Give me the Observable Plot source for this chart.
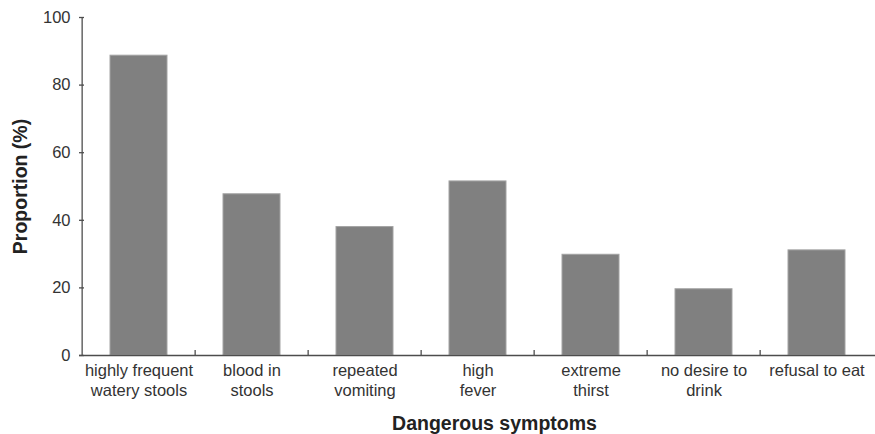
<!DOCTYPE html>
<html>
<head>
<meta charset="utf-8">
<script src="https://cdn.jsdelivr.net/npm/d3@7"></script>
<script src="https://cdn.jsdelivr.net/npm/@observablehq/plot@0.6"></script>
<style>
  html, body { margin: 0; padding: 0; background: #fff; }
  #chart { width: 875px; height: 434px; }
</style>
</head>
<body>
<div id="chart"></div>
<script>
const categories = [
  "highly frequent\nwatery stools",
  "blood in\nstools",
  "repeated\nvomiting",
  "high\nfever",
  "extreme\nthirst",
  "no desire to\ndrink",
  "refusal to eat"
];
const values = [88.7, 47.7, 38.0, 51.5, 29.8, 19.6, 31.1];
const yTicks = [0, 20, 40, 60, 80, 100];
const xTitle = "Dangerous symptoms";
const yTitle = "Proportion (%)";

const data = categories.map((c, i) => ({cat: c, value: values[i]}));

const W = 875, H = 434, mL = 79, mR = 0, mT = 17, mB = 79;
const step = (W - mL - mR) / categories.length;
const axisColor = "#4d4d4d";
const textColor = "#333";

const chart = Plot.plot({
  width: W, height: H,
  marginLeft: mL, marginRight: mR, marginTop: mT, marginBottom: mB,
  style: {fontFamily: "'Liberation Sans', Arial, sans-serif", fontSize: "16.5px", color: textColor, background: "#fff"},
  x: {domain: categories, paddingInner: 0.5, paddingOuter: 0.25, axis: null},
  y: {domain: [0, 100], axis: null},
  marks: [
    Plot.barY(data, {x: "cat", y: "value", fill: "#808080", stroke: "#a3a3a3", strokeWidth: 1}),
    Plot.ruleY([0], {stroke: axisColor, strokeWidth: 1.3}),
    Plot.ruleX([categories[0]], {y1: 0, y2: 100, dx: -step / 2, stroke: axisColor, strokeWidth: 1.3}),
    Plot.axisY({ticks: yTicks, tickSize: 0, tickPadding: 9, label: null, fill: textColor, fontSize: 16.5}),
    Plot.axisY({ticks: yTicks, tickSize: 5, text: null, dx: 5, label: null, stroke: axisColor, strokeWidth: 1.3}),
    Plot.axisX({tickSize: 0, tickPadding: 6, label: null, lineHeight: 1.21, fill: textColor, fontSize: 16.5}),
    Plot.axisX({ticks: categories.slice(1), tickSize: 5, text: null, dx: -step / 2, dy: -5, label: null, stroke: axisColor, strokeWidth: 1.3}),
    Plot.text([xTitle], {frameAnchor: "bottom", dx: 17, dy: 68.5, lineAnchor: "middle", textAnchor: "middle", fontWeight: "bold", fontSize: 19.5, fill: "#222"}),
    Plot.text([yTitle], {frameAnchor: "left", dx: -59, rotate: -90, lineAnchor: "middle", textAnchor: "middle", fontWeight: "bold", fontSize: 19.5, fill: "#222"})
  ]
});
document.getElementById("chart").appendChild(chart);
</script>
</body>
</html>
